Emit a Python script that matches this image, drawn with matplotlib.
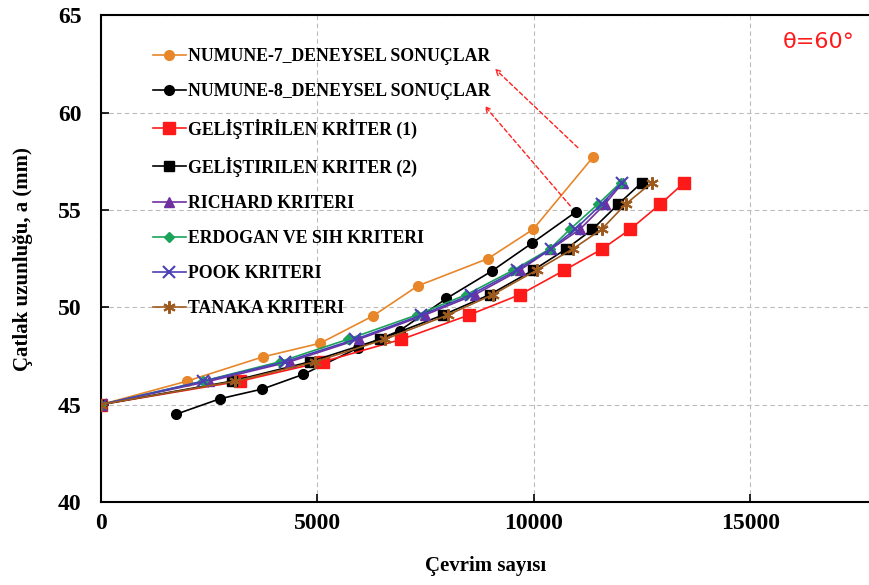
import matplotlib
matplotlib.use("Agg")
import matplotlib.pyplot as plt

plt.rcParams['font.family'] = ['Liberation Serif', 'DejaVu Serif']

# experimental results
n7_x = [0, 1980, 3740, 5060, 6280, 7320, 8940, 9980, 11360]
n7_y = [45, 46.2, 47.45, 48.15, 49.55, 51.1, 52.5, 54.0, 57.7]
n8_x = [1730, 2750, 3730, 4670, 5930, 6900, 7980, 9020, 9960, 10970]
n8_y = [44.5, 45.3, 45.8, 46.55, 47.9, 48.8, 50.45, 51.85, 53.3, 54.9]

# predicted crack lengths (same a values for all criteria)
a_pred = [45, 46.2, 47.2, 48.35, 49.6, 50.65, 51.9, 53.0, 54.0, 55.3, 56.4]
kriter1_x = [0, 3210, 5130, 6940, 8500, 9680, 10700, 11580, 12220, 12920, 13470]
kriter2_x = [0, 3020, 4830, 6440, 7900, 8980, 9980, 10750, 11350, 11950, 12490]
richard_x = [0, 2500, 4360, 5950, 7480, 8640, 9670, 10400, 11060, 11640, 12050]
erdogan_x = [0, 2350, 4130, 5700, 7290, 8440, 9520, 10370, 10830, 11480, 12000]
pook_x = [0, 2360, 4250, 5870, 7400, 8550, 9600, 10390, 10950, 11560, 12030]
tanaka_x = [0, 3100, 4950, 6550, 8010, 9050, 10060, 10900, 11560, 12120, 12720]

fig = plt.figure(figsize=(8.7, 5.85), dpi=100)
ax = fig.add_axes([0.116, 0.142, 0.884, 0.832])

ax.plot(n7_x, n7_y, color='#E8862A', marker='o', ms=7, lw=1.2, label='NUMUNE-7_DENEYSEL SONUÇLAR', zorder=3)
ax.plot(n8_x, n8_y, color='black', marker='o', ms=7, lw=1.2, label='NUMUNE-8_DENEYSEL SONUÇLAR', zorder=3)
ax.plot(kriter1_x, a_pred, color='#FF1A1A', marker='s', ms=9, lw=1.2, label='GELİŞTİRİLEN KRİTER (1)', zorder=3)
ax.plot(kriter2_x, a_pred, color='black', marker='s', ms=7, lw=1.2, label='GELİŞTIRILEN KRITER (2)', zorder=3)
ax.plot(richard_x, a_pred, color='#7030A0', marker='^', ms=7, lw=1.2, label='RICHARD KRITERI', zorder=3)
ax.plot(erdogan_x, a_pred, color='#1BA35A', marker='D', ms=5, lw=1.2, label='ERDOGAN VE SIH KRITERI', zorder=3)
ax.plot(pook_x, a_pred, color='#4A3FB5', marker='x', ms=8, mew=1.5, lw=1.2, label='POOK KRITERI', zorder=3)
ax.plot(tanaka_x, a_pred, color='#9C5A1E', marker=(6, 2, 0), ms=9, mew=1.5, lw=1.2, label='TANAKA KRITERI', zorder=3)

ax.set_xlim(0, 17760)
ax.set_ylim(40, 65)
ax.set_xticks([0, 5000, 10000, 15000])
ax.set_yticks([40, 45, 50, 55, 60, 65])
ax.grid(True, color='#BBBBBB', linestyle=(0, (4, 3)), linewidth=0.8)
ax.tick_params(direction='in', length=6, width=1.2, labelsize=17)
ax.tick_params(axis='x', pad=8)
ax.tick_params(axis='y', pad=14)
for lbl in ax.get_xticklabels() + ax.get_yticklabels():
    lbl.set_fontweight('bold')
ax.spines['right'].set_visible(False)
for s in ['left', 'bottom', 'top']:
    ax.spines[s].set_linewidth(1.5)

ax.set_xlabel('Çevrim sayısı', fontsize=15, fontweight='bold', labelpad=16)
ax.set_ylabel('Çatlak uzunluğu, a (mm)', fontsize=15, fontweight='bold', labelpad=18)

leg = ax.legend(loc='upper left', bbox_to_anchor=(0.157, 0.945), bbox_transform=fig.transFigure,
                frameon=False, handlelength=1.9, handletextpad=0.1,
                labelspacing=1.02, prop={'weight': 'bold', 'size': 12.8})

ax.text(0.9, 0.928, 'θ=60°', transform=fig.transFigure, color='#FF1A1A', fontsize=16,
        family='DejaVu Sans', ha='left', va='center')

arrow_style = dict(arrowstyle='->', color='#FF2020', linestyle=(0, (3, 2)), lw=1.0)
ax.annotate('', xy=(9050, 62.35), xytext=(11060, 58.1), arrowprops=arrow_style)
ax.annotate('', xy=(8820, 60.45), xytext=(10880, 55.1), arrowprops=arrow_style)

fig.savefig('out.png', dpi=100)
